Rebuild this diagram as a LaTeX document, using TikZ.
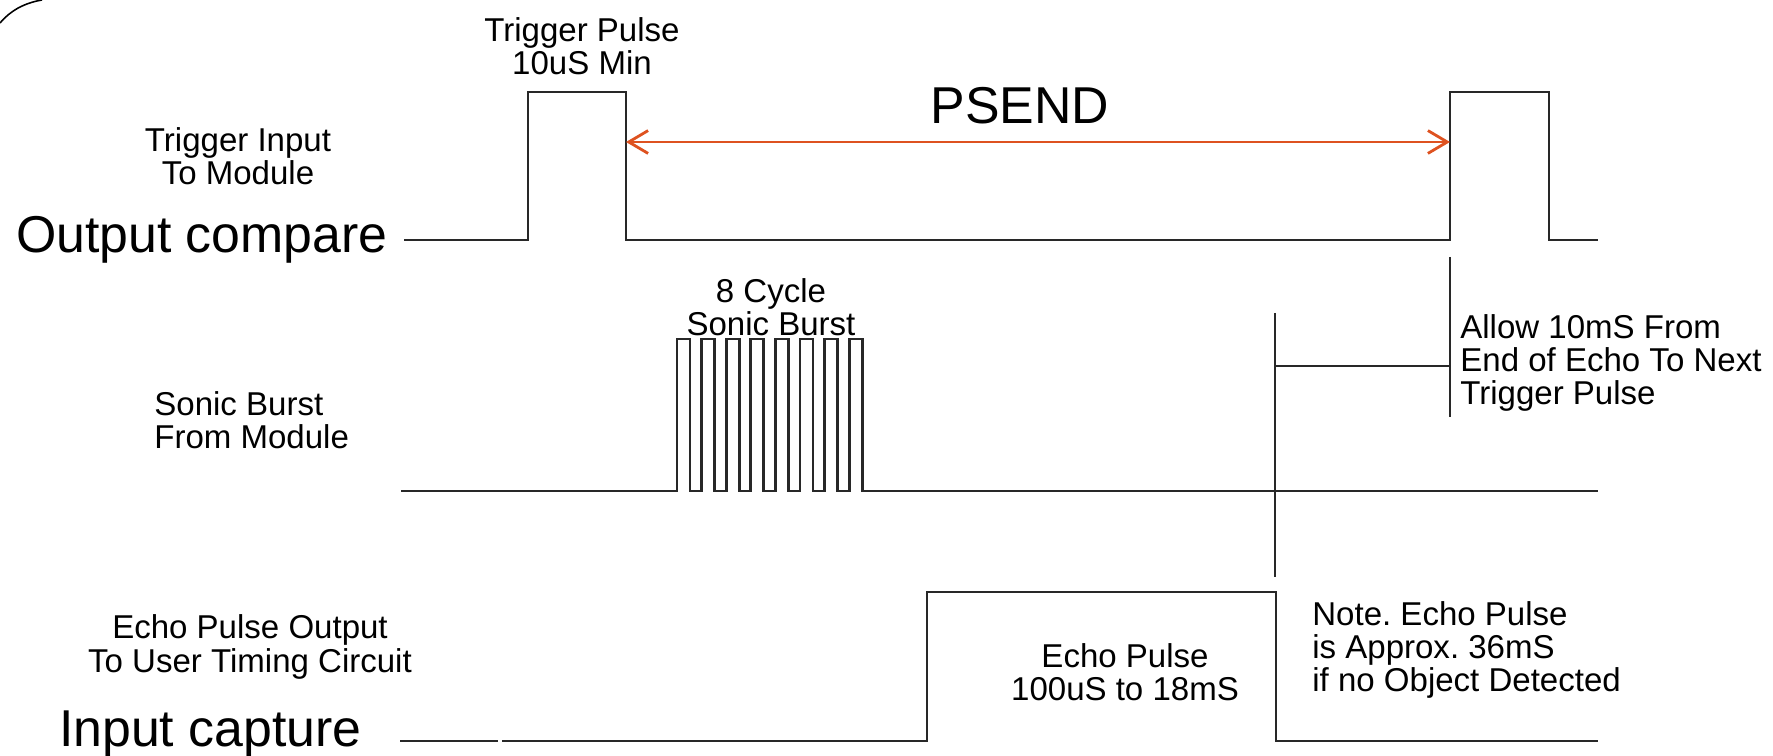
\documentclass[tikz,border=0pt]{standalone}
\usepackage{fontspec}
\setmainfont{Liberation Sans}
\usetikzlibrary{arrows.meta}
\definecolor{psendOrange}{RGB}{222,82,32}
\definecolor{signalGray}{RGB}{40,40,40}

\begin{document}
\begin{tikzpicture}[x=0.02cm, y=-0.02cm,
  >={Straight Barb[length=11pt, width=13pt]},
  signal/.style={signalGray, line width=1.6pt, line join=miter},
  marker/.style={signalGray, line width=1.4pt},
  smalltext/.style={font=\fontsize{18.8}{19}\selectfont, inner sep=0pt},
  bigtext/.style={font=\fontsize{29.5}{32}\selectfont, inner sep=0pt}]
\useasboundingbox (0,0) rectangle (1773,756);
%
\draw[black, line width=0.9pt] (0,23) .. controls (10,11) and (24,3) .. (42,0);

%
\draw[signal] (404,240) -- (528,240) -- (528,92) -- (626,92) -- (626,240)
  -- (1450,240) -- (1450,92) -- (1549,92) -- (1549,240) -- (1598,240);
\node[smalltext, align=center] (trigpulse) at (582,46) {Trigger Pulse\\10uS Min};
\node[smalltext, align=center] (triginput) at (238,156) {Trigger Input\\To Module};
\node[bigtext, anchor=east] (outcmp) at (388,240) {Output compare};
\coordinate (trigfall) at (626,142);
\coordinate (nexttrig) at (1450,142);
\draw[psendOrange, line width=1.6pt, <->] (trigfall) -- (nexttrig);
\node[bigtext] (psend) at (1020,106) {PSEND};

%
\draw[signal] (401,491)
  \foreach \i in {0,...,7} {
    -- ({677+24.6*\i},491) -- ({677+24.6*\i},339)
    -- ({690+24.6*\i},339) -- ({690+24.6*\i},491)}
  -- (1598,491);
\node[smalltext, align=center] (burst) at (771,307) {8 Cycle\\Sonic Burst};
\node[smalltext, align=left, anchor=west] (sonic) at (154,420) {Sonic Burst\\From Module};

%
\draw[marker] (1275,313) -- (1275,577);
\draw[marker] (1450,257) -- (1450,417);
\draw[marker] (1275,366) -- (1450,366);
\node[smalltext, align=left, anchor=west] (allow) at (1460,363)
  {Allow 10mS From\\End of Echo To Next\\Trigger Pulse};

%
\draw[signal] (400,741) -- (498,741);
\draw[signal] (502,741) -- (927,741) -- (927,592) -- (1276,592) -- (1276,741) -- (1598,741);
\node[smalltext, align=center] (echoout) at (250,647) {Echo Pulse Output\\To User Timing Circuit};
\node[bigtext, anchor=east] (incap) at (362,734) {Input capture};
\node[smalltext, align=center] (echowidth) at (1125,672) {Echo Pulse\\100uS to 18mS};
\node[smalltext, align=left, anchor=west] (note) at (1312,650)
  {Note.\ Echo Pulse\\is Approx.\ 36mS\\if no Object Detected};
\end{tikzpicture}
\end{document}
